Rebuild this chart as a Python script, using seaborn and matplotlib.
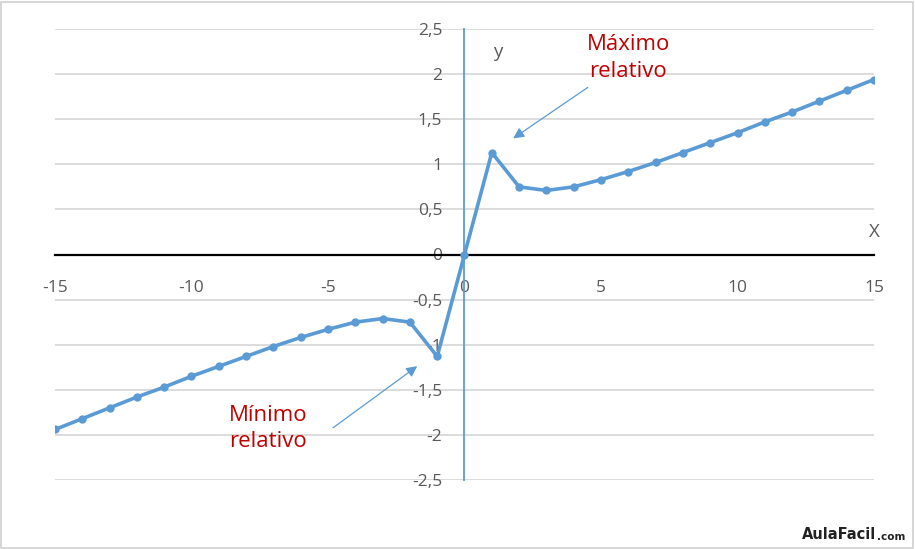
import matplotlib
matplotlib.use("Agg")
import matplotlib.pyplot as plt
import seaborn as sns
import pandas as pd
from matplotlib.ticker import FuncFormatter, MultipleLocator, FixedLocator
from matplotlib.patches import Rectangle

x_values = [-15, -14, -13, -12, -11, -10, -9, -8, -7, -6, -5, -4, -3, -2, -1,
            0, 1, 2, 3, 4, 5, 6, 7, 8, 9, 10, 11, 12, 13, 14, 15]
y_values = [-1.94, -1.82, -1.70, -1.58, -1.47, -1.35, -1.24, -1.13, -1.02, -0.92,
            -0.83, -0.75, -0.71, -0.75, -1.13,
            0.0, 1.13, 0.75, 0.71, 0.75, 0.83, 0.92, 1.02, 1.13, 1.24, 1.35,
            1.47, 1.58, 1.70, 1.82, 1.94]
x_ticks = [-15, -10, -5, 0, 5, 10, 15]
max_label = "Máximo\nrelativo"
min_label = "Mínimo\nrelativo"

sns.set_style("white")
plt.rcParams['font.family'] = ['Open Sans', 'DejaVu Sans']

df = pd.DataFrame({"x": x_values, "y": y_values})

fig = plt.figure(figsize=(9.15, 5.49), dpi=100)
W, H = 915, 549
ax = fig.add_axes([55 / W, 69 / H, (874 - 55) / W, (520 - 69) / H])

blue = "#5B9BD5"
gray_txt = "#595959"

sns.lineplot(data=df, x="x", y="y", ax=ax, color=blue, linewidth=2.6,
             marker="o", markersize=6, markeredgewidth=0, zorder=5)

ax.set_xlim(-15, 15)
ax.set_ylim(-2.5, 2.5)

# spines
for s in ["top", "right"]:
    ax.spines[s].set_visible(False)
ax.spines["left"].set_position(("data", 0))
ax.spines["left"].set_color(blue)
ax.spines["left"].set_linewidth(1.3)
ax.spines["bottom"].set_position(("data", 0))
ax.spines["bottom"].set_color("black")
ax.spines["bottom"].set_linewidth(1.6)
ax.spines["bottom"].set_zorder(3)

# y ticks
ax.yaxis.set_major_locator(MultipleLocator(0.5))
ax.yaxis.set_major_formatter(FuncFormatter(lambda v, p: (f"{v:g}").replace(".", ",") if abs(v) > 1e-9 else "0"))
ax.tick_params(axis="y", which="major", direction="out", length=5, width=1.3,
               color=blue, labelcolor=gray_txt, labelsize=12.5, pad=11)

# x ticks (only end ticks visible)
ax.xaxis.set_major_locator(FixedLocator(x_ticks))
ax.xaxis.set_major_formatter(FuncFormatter(lambda v, p: f"{int(v)}"))
ax.tick_params(axis="x", which="major", direction="out", length=6, width=1.6,
               color="black", labelcolor=gray_txt, labelsize=12.5, pad=12)
fig.canvas.draw()
for t in ax.xaxis.get_major_ticks():
    if abs(abs(t.get_loc()) - 15) > 1e-9:
        t.tick1line.set_visible(False)

ax.set_xlabel("")
ax.set_ylabel("")

# gridlines
ax.yaxis.grid(True, color="#D9D9D9", linewidth=1.3)
ax.xaxis.grid(False)
ax.set_axisbelow(True)

# axis letters
ax.text(1.2, 2.25, "y", color=gray_txt, fontsize=13.5, ha="center", va="center")
ax.text(15, 0.25, "X", color=gray_txt, fontsize=13.5, ha="center", va="center")

# annotations
red = "#C00000"
ax.annotate("", xy=(1.7, 1.27), xytext=(4.6, 1.87),
            arrowprops=dict(arrowstyle="-|>", color=blue, lw=0.9, mutation_scale=16))
ax.text(6.0, 2.18, max_label, color=red, fontsize=16, ha="center", va="center",
        linespacing=1.35)
ax.annotate("", xy=(-1.65, -1.22), xytext=(-4.9, -1.94),
            arrowprops=dict(arrowstyle="-|>", color=blue, lw=0.9, mutation_scale=16))
ax.text(-7.2, -1.93, min_label, color=red, fontsize=16, ha="center", va="center",
        linespacing=1.35)

# border
fig.patches.append(Rectangle((1 / W, 1 / H), (W - 3) / W, (H - 3) / H,
                             transform=fig.transFigure, fill=False,
                             edgecolor="#D0D0D0", linewidth=1.2))
# watermark
fig.text(876 / W, 7 / H, "AulaFacil", fontsize=10.5, fontweight="bold",
         color="#222222", ha="right", va="bottom", family=["DejaVu Sans"])
fig.text(877 / W, 7 / H, ".com", fontsize=7.5, fontweight="bold",
         color="#222222", ha="left", va="bottom", family=["DejaVu Sans"])

fig.savefig("out.png", dpi=100)
